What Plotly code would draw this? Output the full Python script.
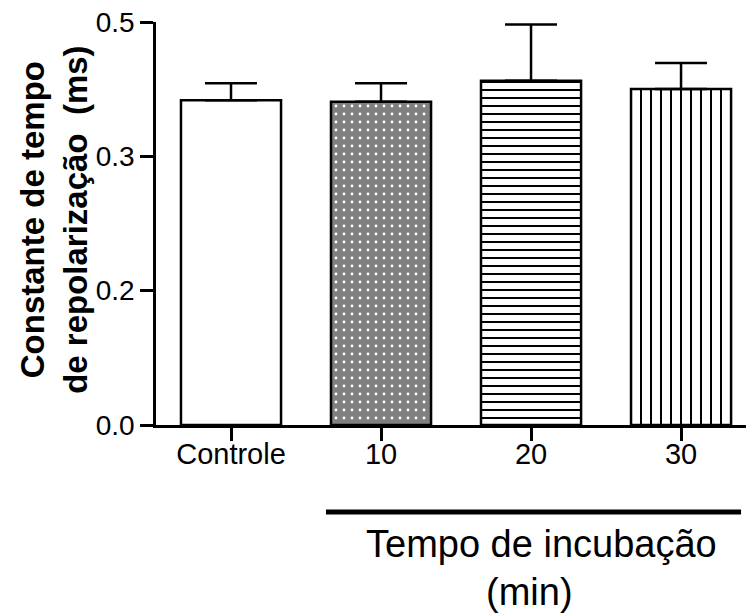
import plotly.graph_objects as go

categories = ["Controle", "10", "20", "30"]
means = [0.403, 0.401, 0.427, 0.417]
sem_upper = [0.021, 0.023, 0.070, 0.032]
y_tick_vals = [0.0, 1/6, 1/3, 0.5]
y_tick_text = ["0.0", "0.2", "0.3", "0.5"]

FONT = "Arial, Liberation Sans, sans-serif"

styles = [
    dict(color="white", pattern=dict(shape="")),
    dict(color="#808080", pattern=dict(shape=".", fillmode="replace", bgcolor="#808080",
                                       fgcolor="white", size=8, solidity=0.1)),
    dict(color="white", pattern=dict(shape="-", fillmode="replace", bgcolor="white",
                                     fgcolor="black", size=8, solidity=0.25)),
    dict(color="white", pattern=dict(shape="|", fillmode="replace", bgcolor="white",
                                     fgcolor="black", size=10, solidity=0.2)),
]

fig = go.Figure()
for i, cat in enumerate(categories):
    st = styles[i]
    fig.add_trace(go.Bar(
        x=[i], y=[means[i]], width=0.667, name=cat,
        marker=dict(color=st["color"], line=dict(color="black", width=2.5),
                    pattern=st["pattern"]),
        error_y=dict(type="data", symmetric=False, array=[sem_upper[i]],
                     arrayminus=[0], color="black", thickness=2.5, width=26),
        showlegend=False,
    ))

fig.update_layout(
    width=746, height=615,
    margin=dict(l=156, r=0, t=22, b=190),
    plot_bgcolor="white", paper_bgcolor="white",
    font=dict(family=FONT, color="black", size=28),
    barmode="overlay",
)
fig.update_xaxes(range=[-0.5, 3.433], tickvals=list(range(len(categories))), ticktext=categories,
                 showline=True, linecolor="black", linewidth=2.5,
                 ticks="outside", ticklen=13, tickwidth=2.5, tickcolor="black",
                 showgrid=False, zeroline=False, tickfont=dict(size=29),
                 ticklabelstandoff=-12)
fig.update_yaxes(range=[0, 0.5], tickvals=y_tick_vals, ticktext=y_tick_text,
                 showline=True, linecolor="black", linewidth=2.5,
                 ticks="outside", ticklen=13, tickwidth=2.5, tickcolor="black",
                 showgrid=False, zeroline=False, tickfont=dict(size=28),
                 ticklabelstandoff=0)

fig.add_annotation(text="<b>Constante de tempo<br>de repolarização \u00a0(ms)</b>",
                   textangle=-90, xref="paper", yref="paper", x=0, y=0.509,
                   xshift=-102, xanchor="center", yanchor="middle",
                   showarrow=False, font=dict(size=33, family=FONT))

fig.add_shape(type="line", xref="x", yref="paper", x0=0.633, x1=3.4, y0=-0.216, y1=-0.216,
              line=dict(color="black", width=5))

fig.add_annotation(text="Tempo de incubação", xref="x", yref="paper", x=2.07, y=-0.295,
                   xanchor="center", yanchor="middle", showarrow=False,
                   font=dict(size=38, family=FONT))
fig.add_annotation(text="(min)", xref="x", yref="paper", x=1.987, y=-0.414,
                   xanchor="center", yanchor="middle", showarrow=False,
                   font=dict(size=38, family=FONT))

fig.write_html("out.html")
